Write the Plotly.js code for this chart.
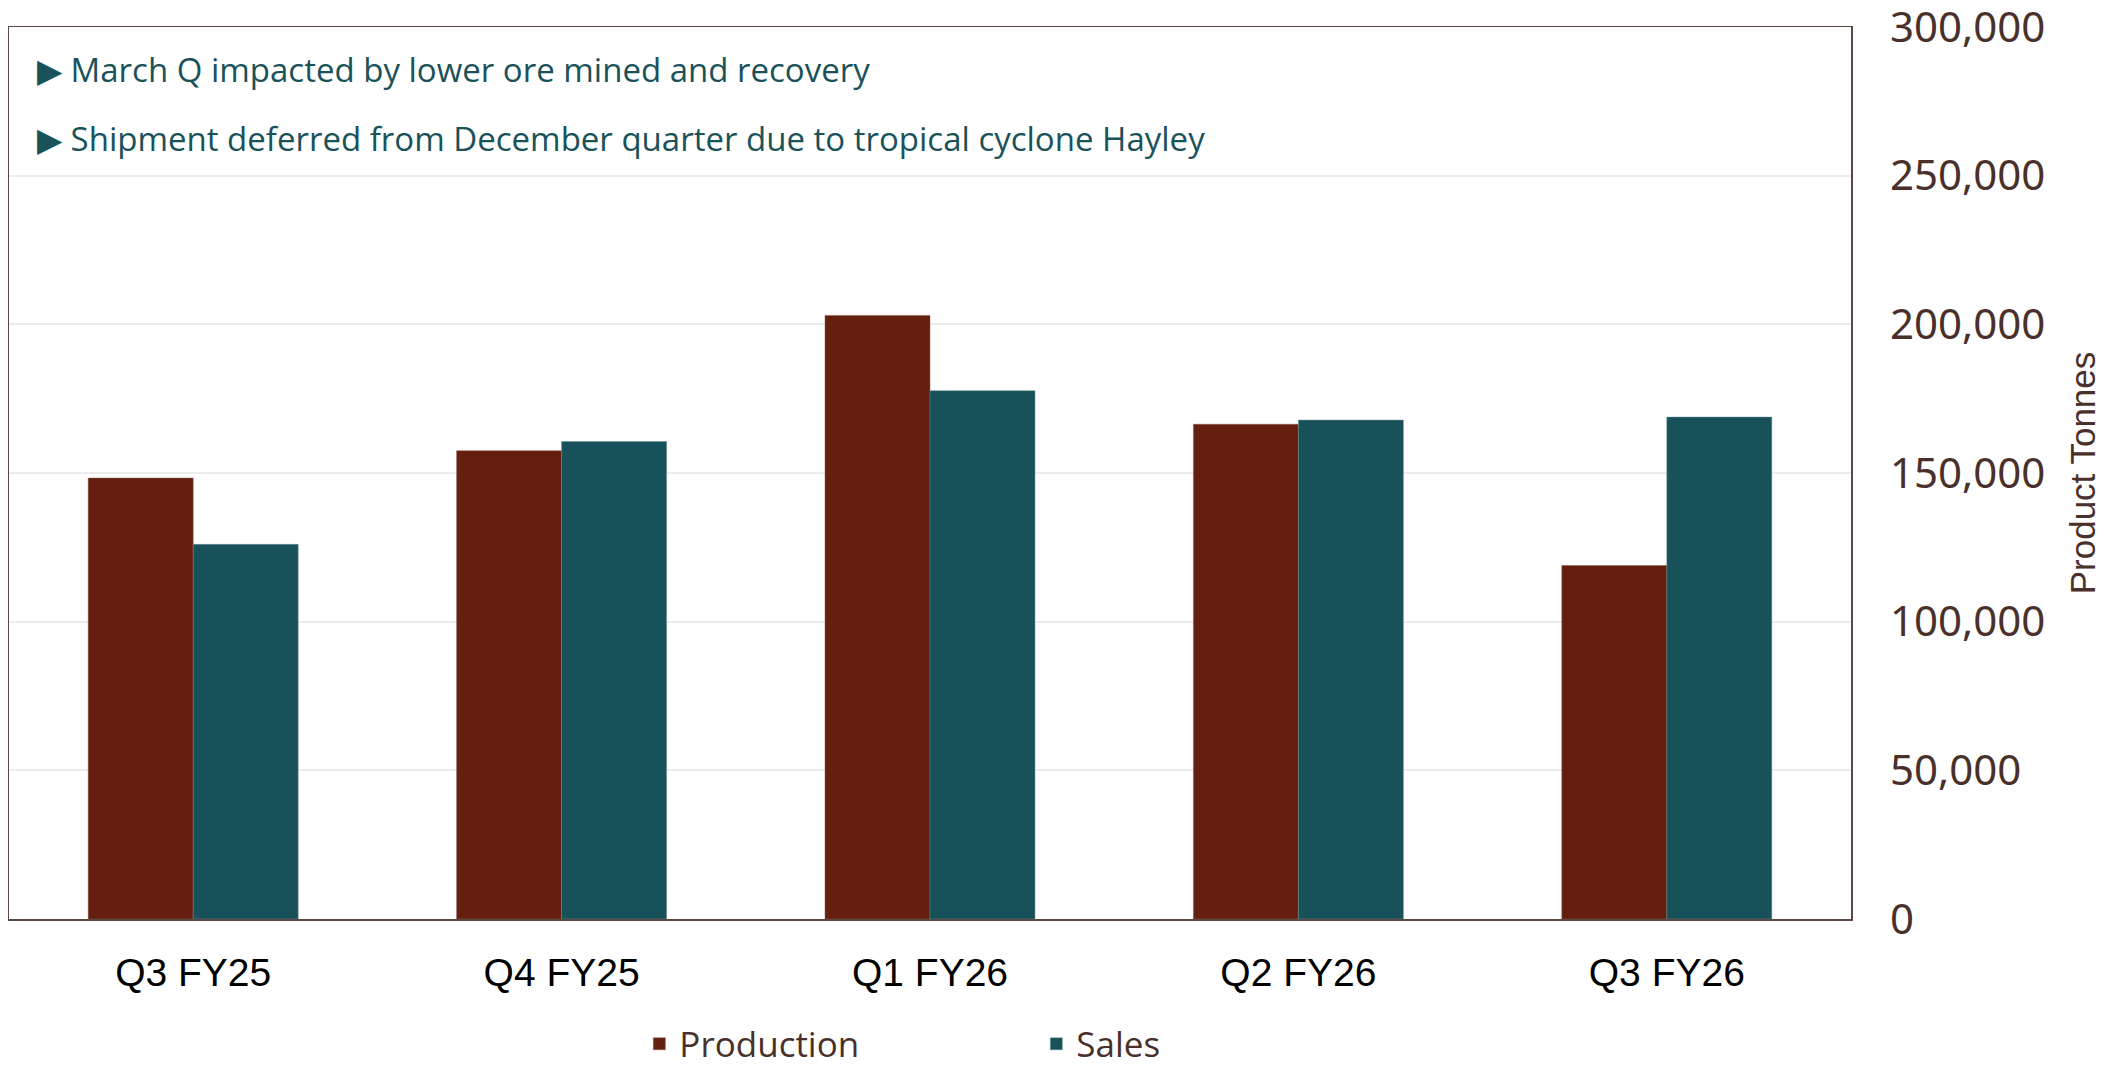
<!DOCTYPE html>
<html>
<head>
<meta charset="utf-8">
<script src="https://cdn.plot.ly/plotly-3.0.1.min.js"></script>
<style>html,body{margin:0;padding:0;background:#fff;}#chart{width:2117px;height:1066px;}</style>
</head>
<body>
<div id="chart"></div>
<script>
const categories = ["Q3 FY25", "Q4 FY25", "Q1 FY26", "Q2 FY26", "Q3 FY26"];
const production = [148300, 157500, 203000, 166400, 118900];
const sales = [126000, 160600, 177700, 167800, 168800];
const yTicks = [0, 50000, 100000, 150000, 200000, 250000, 300000];
const notes = [
  "March Q impacted by lower ore mined and recovery",
  "Shipment deferred from December quarter due to tropical cyclone Hayley"
];
const yTitle = "Product Tonnes";

const brown = "#4a302b";
const teal = "#1a525a";

const traces = [
  {type: "bar", name: "Production", x: categories, y: production,
   marker: {color: "#641f0e", line: {color: "#8a5a50", width: 0.5}}},
  {type: "bar", name: "Sales", x: categories, y: sales,
   marker: {color: "#18515a", line: {color: "#6a8f95", width: 0.5}}}
];

const layout = {
  width: 2117, height: 1066,
  paper_bgcolor: "#ffffff", plot_bgcolor: "#ffffff",
  margin: {l: 9, r: 266, t: 27, b: 147, autoexpand: false},
  barmode: "group", bargap: 0.43, bargroupgap: 0,
  showlegend: true,
  legend: {orientation: "h", xref: "container", yref: "container",
    x: 0.302, xanchor: "left", y: 0.0206, yanchor: "middle",
    font: {family: "Open Sans, Noto Sans, sans-serif", size: 35, color: brown},
    itemwidth: 30, entrywidth: 352, entrywidthmode: "pixels"},
  xaxis: {
    showline: true, mirror: true, linecolor: "#5b4843", linewidth: 1.5,
    showgrid: false, ticks: "", ticklabelstandoff: 19, automargin: false,
    tickfont: {family: "Liberation Sans, Arial, sans-serif", size: 39, color: "#000000"}
  },
  yaxis: {
    side: "right", range: [0, 300000], tickvals: yTicks,
    tickformat: ",d", automargin: false, ticklabeloverflow: "allow",
    showline: true, mirror: true, linecolor: "#5b4843", linewidth: 1.5,
    showgrid: true, gridcolor: "#ececec", gridwidth: 2,
    ticks: "", ticklabelstandoff: 29, zeroline: false,
    tickfont: {family: "Noto Sans, Open Sans, sans-serif", size: 42, color: brown},
    title: {text: yTitle, standoff: 26,
      font: {family: "Liberation Sans, Arial, sans-serif", size: 35, color: brown}}
  },
  annotations: notes.map((t, i) => ({
    xref: "paper", yref: "paper", x: 0.014, y: i === 0 ? 0.9525 : 0.875,
    xanchor: "left", yanchor: "middle", showarrow: false,
    text: "\u25B6 " + t,
    font: {family: "Open Sans, Noto Sans, sans-serif", size: 33, color: teal}
  }))
};

Plotly.newPlot("chart", traces, layout, {displayModeBar: false, staticPlot: true});
</script>
</body>
</html>
